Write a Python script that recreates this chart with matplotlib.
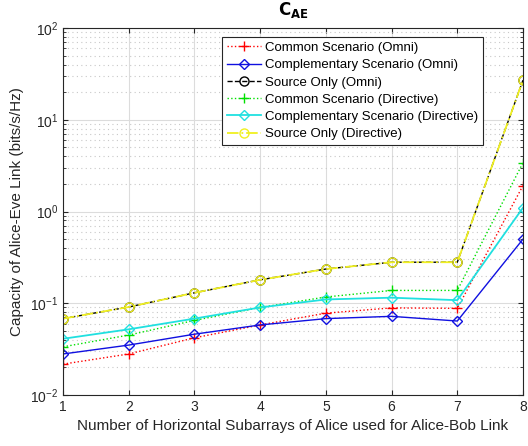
import matplotlib
matplotlib.use('Agg')
import matplotlib.pyplot as plt
from matplotlib.ticker import LogLocator, NullFormatter

plt.rcParams['font.family'] = ['Liberation Sans', 'DejaVu Sans']

# number of horizontal subarrays
n_sub = [1, 2, 3, 4, 5, 6, 7, 8]

# capacity values (bits/s/Hz)
common_omni = [0.0217, 0.028, 0.042, 0.058, 0.078, 0.089, 0.088, 1.92]
compl_omni = [0.028, 0.035, 0.046, 0.058, 0.068, 0.072, 0.064, 0.50]
source_omni = [0.068, 0.091, 0.13, 0.18, 0.236, 0.28, 0.28, 27.0]
common_dir = [0.0335, 0.045, 0.065, 0.09, 0.117, 0.138, 0.138, 3.4]
compl_dir = [0.041, 0.052, 0.068, 0.09, 0.11, 0.115, 0.108, 1.1]
source_dir = [0.068, 0.091, 0.13, 0.18, 0.236, 0.28, 0.28, 27.0]

fig = plt.figure(figsize=(5.28, 4.46), dpi=100)
ax = fig.add_axes([63 / 528, 51 / 446, 460 / 528, 367 / 446])

ax.semilogy(n_sub, common_omni, color='r', linestyle=':', marker='+', markersize=7, lw=1,
            label='Common Scenario (Omni)')
ax.semilogy(n_sub, compl_omni, color='#1010e0', linestyle='-', marker='D', markersize=5.5, mfc='none', lw=1,
            label='Complementary Scenario (Omni)')
ax.semilogy(n_sub, source_omni, color='k', linestyle='--', marker='o', markersize=6.5, mfc='none', lw=1,
            label='Source Only (Omni)')
ax.semilogy(n_sub, common_dir, color='#00e000', linestyle=':', marker='+', markersize=7, lw=1,
            label='Common Scenario (Directive)')
ax.semilogy(n_sub, compl_dir, color='#20e0e0', linestyle='-', marker='D', markersize=5.5, mfc='none', lw=1.3,
            label='Complementary Scenario (Directive)')
ax.semilogy(n_sub, source_dir, color='#f0f020', linestyle='-.', marker='o', markersize=6.5, mfc='none', lw=1.3,
            label='Source Only (Directive)')

ax.set_xlim(1, 8)
ax.set_ylim(1e-2, 1e2)
ax.set_xticks(n_sub)
ax.yaxis.set_major_locator(LogLocator(base=10, numticks=10))
ax.yaxis.set_minor_locator(LogLocator(base=10, subs=range(2, 10), numticks=10))
ax.yaxis.set_minor_formatter(NullFormatter())

ax.grid(True, which='major', color='#dcdcdc', linestyle='-', lw=0.8)
ax.grid(True, which='minor', axis='y', color='#c8c8c8', linestyle=(0, (1, 3)), lw=0.8)
ax.tick_params(which='both', direction='in', top=True, right=True, labelsize=10, colors='#262626')
ax.tick_params(axis='y', which='minor', length=2)
ax.set_axisbelow(True)
for sp in ax.spines.values():
    sp.set_color('#262626')

ax.set_title(r'$\mathbf{C_{AE}}$', fontsize=12, pad=9)
ax.set_xlabel('Number of Horizontal Subarrays of Alice used for Alice-Bob Link', fontsize=11, color='#262626')
ax.set_ylabel('Capacity of Alice-Eve Link (bits/s/Hz)', fontsize=11, color='#262626')

leg = ax.legend(loc='upper right', bbox_to_anchor=(0.913, 0.975), fontsize=9.5, fancybox=False,
                framealpha=1, edgecolor='#262626', handlelength=2.6, borderpad=0.35, labelspacing=0.38,
                handletextpad=0.3, borderaxespad=0)
leg.get_frame().set_linewidth(0.8)

fig.savefig('out.png', dpi=100)
